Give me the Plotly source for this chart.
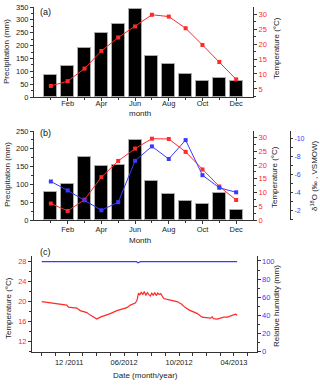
import plotly.graph_objects as go

W, H = 320, 387

# ---- data (a)
months = list(range(1, 13))
month_labels = ["Jan", "Feb", "Mar", "Apr", "May", "Jun", "Jul", "Aug", "Sep", "Oct", "Nov", "Dec"]
precip_a = [84, 120, 192, 250, 282, 343, 159, 130, 88, 61, 73, 61]
temp_a = [6.0, 7.6, 11.8, 17.7, 22.2, 25.9, 29.8, 29.2, 25.3, 19.7, 14.0, 8.2]

# ---- data (b)
precip_b = [78, 100, 178, 153, 154, 226, 109, 72, 53, 44, 75, 27]
temp_b = [6.0, 3.3, 7.4, 15.6, 21.5, 26.0, 29.6, 29.5, 24.8, 18.4, 12.2, 7.3]
d18o_b = [-5.2, -4.2, -3.1, -2.0, -2.9, -7.5, -9.1, -7.7, -9.8, -5.9, -4.5, -4.0]
d18o_ticks = [-10, -8, -6, -4, -2]
d18o_labels = ["-10", "-8", "-6", "-4", "-2"]

# ---- data (c)  (x in tick steps of the date axis)
t_c = [0.00, 0.61, 1.19, 1.82, 1.94, 2.55, 2.80, 3.28, 3.53, 3.74, 4.01, 4.26, 4.50, 4.99,
       5.47, 5.86, 6.20, 6.45, 6.69, 6.81, 6.93, 7.05, 7.14, 7.25, 7.36, 7.47, 7.58, 7.69,
       7.80, 7.91, 8.01, 8.12, 8.23, 8.34, 8.45, 8.56, 8.67, 8.78, 8.88, 9.37, 9.85, 10.17,
       10.46, 10.75, 11.07, 11.34, 11.68, 11.99, 12.29, 12.41, 12.50, 12.77, 13.01, 13.26,
       13.53, 13.74, 13.96, 14.11, 14.23]
temp_c = [20.0, 19.8, 19.6, 19.3, 18.9, 18.7, 18.2, 17.8, 17.3, 17.0, 16.5, 16.9, 17.1, 17.6,
          18.2, 18.5, 18.8, 19.3, 19.5, 19.7, 20.2, 21.7, 21.3, 21.9, 21.4, 22.0, 21.2, 21.8,
          21.4, 21.1, 21.7, 21.3, 21.8, 21.2, 21.7, 21.4, 21.6, 21.0, 20.6, 20.3, 20.0, 19.5,
          18.8, 18.3, 18.0, 17.6, 16.9, 16.8, 16.7, 16.95, 16.6, 16.5, 16.7, 16.9,
          16.9, 17.1, 17.3, 17.5, 17.3]
t_rh = [0.0, 6.9, 7.0, 7.1, 7.2, 14.23]
rh_c = [99.3, 99.3, 98.1, 98.6, 99.3, 99.3]
date_ticks = [2, 6, 10, 14]
date_labels = ["12 /2011", "06/2012", "10/2012", "04/2013"]
date_minor = list(range(0, 16))

RED = "#ff2a2a"
BLUE = "#3a3aff"
AX = "#333333"
FONT = "Liberation Sans"


def xd(p):
    return p / W


def yd(top, bottom):
    return [1 - bottom / H, 1 - top / H]


fig = go.Figure()

# (a)
fig.add_trace(go.Bar(x=months, y=precip_a, width=0.77, marker=dict(color="black", line=dict(color="#aaaaaa", width=1)),
                     xaxis="x", yaxis="y"))
fig.add_trace(go.Scatter(x=months, y=temp_a, mode="lines+markers", line=dict(color=RED, width=1),
                         marker=dict(symbol="square", size=4, color=RED), xaxis="x", yaxis="y2"))
# (b)
fig.add_trace(go.Bar(x=months, y=precip_b, width=0.77, marker=dict(color="black", line=dict(color="#aaaaaa", width=1)),
                     xaxis="x2", yaxis="y3"))
fig.add_trace(go.Scatter(x=months, y=temp_b, mode="lines+markers", line=dict(color=RED, width=1),
                         marker=dict(symbol="square", size=4, color=RED), xaxis="x2", yaxis="y4"))
fig.add_trace(go.Scatter(x=months, y=d18o_b, mode="lines+markers", line=dict(color=BLUE, width=1),
                         marker=dict(symbol="square", size=4, color=BLUE), xaxis="x2", yaxis="y5"))
# (c)
fig.add_trace(go.Scatter(x=t_c, y=temp_c, mode="lines", line=dict(color=RED, width=1.2), xaxis="x3", yaxis="y6"))
fig.add_trace(go.Scatter(x=t_rh, y=rh_c, mode="lines", line=dict(color=BLUE, width=1.2), xaxis="x3", yaxis="y7"))

tickf = dict(family=FONT, size=7.5, color="#222222")
base = dict(showgrid=False, zeroline=False, showline=True, linecolor=AX, linewidth=1, ticks="outside",
            ticklen=3, tickcolor=AX, automargin=False, tickfont=tickf)
minor = dict(ticks="outside", ticklen=2, tickcolor=AX)


def ax(**kw):
    d = dict(base)
    d.update(kw)
    return d


month_x = dict(range=[0, 13], tickvals=[2, 4, 6, 8, 10, 12], ticktext=month_labels[1::2],
               minor=dict(minor, tickvals=[1, 3, 5, 7, 9, 11]))

fig.update_layout(
    width=W, height=H, margin=dict(l=0, r=0, t=0, b=0), showlegend=False,
    plot_bgcolor="white", paper_bgcolor="white", bargap=0,
    xaxis=ax(domain=[xd(34), xd(253)], anchor="y", ticklabelstandoff=-4, **month_x),
    yaxis=ax(domain=yd(7, 97), anchor="x", range=[0, 350], dtick=50, minor=dict(minor, dtick=25)),
    yaxis2=ax(overlaying="y", side="right", anchor="x", range=[2.3, 32.4], dtick=5,
              tickfont=dict(tickf, color=RED), minor=dict(minor, dtick=2.5)),
    xaxis2=ax(domain=[xd(34), xd(253)], anchor="y3", ticklabelstandoff=-1, **month_x),
    yaxis3=ax(domain=yd(131, 220), anchor="x2", range=[0, 250], dtick=50, minor=dict(minor, dtick=25)),
    yaxis4=ax(overlaying="y3", side="right", anchor="x2", range=[0, 32.4], dtick=5,
              tickfont=dict(tickf, color=RED), minor=dict(minor, dtick=2.5)),
    yaxis5=ax(overlaying="y3", side="right", anchor="free", position=xd(290), range=[-0.92, -10.81],
              tickvals=d18o_ticks, ticktext=d18o_labels, ticklen=2, tickfont=dict(tickf, size=7, color=BLUE),
              minor=dict(minor, dtick=1)),
    xaxis3=ax(domain=[xd(32), xd(256.5)], anchor="y6", range=[-0.71, 15.64],
              tickvals=date_ticks, ticktext=date_labels, minor=dict(minor, tickvals=date_minor, ticklen=3)),
    yaxis6=ax(domain=yd(256, 351.7), anchor="x3", range=[10, 29.1], dtick=4,
              tickfont=dict(tickf, color=RED), minor=dict(minor, dtick=2)),
    yaxis7=ax(overlaying="y6", side="right", anchor="x3", range=[0, 105.5], dtick=20,
              tickfont=dict(tickf, color=BLUE), minor=dict(minor, dtick=10)),
)

titles = [
    ("Precipitation (mm)", 7, 52, -90),
    ("Temperature (°C)", 276, 48, -90),
    ("month", 140, 113, 0),
    ("Precipitation (mm)", 7, 175, -90),
    ("Temperature (°C)", 275, 177, -90),
    ("δ<sup>18</sup>O (‰ , VSMOW)", 314, 176, -90),
    ("Month", 140, 241, 0),
    ("Temperature (°C)", 8, 308, -90),
    ("Relative humidity (mm)", 276, 306, -90),
    ("Date (month/year)", 145, 375, 0),
]
for text, x, y, ang in titles:
    fig.add_annotation(text=text, x=xd(x), y=1 - y / H, xref="paper", yref="paper", showarrow=False,
                       textangle=ang, xanchor="center", yanchor="middle",
                       font=dict(family=FONT, size=8, color="#222222"))

for text, x, y in [("(a)", 38, 12), ("(b)", 38, 133), ("(c)", 38, 252)]:
    fig.add_annotation(text=text, x=xd(x), y=1 - y / H, xref="paper", yref="paper", showarrow=False,
                       xanchor="left", yanchor="middle", font=dict(family=FONT, size=9, color="#111111"))

fig.write_html("out.html", config={"displayModeBar": False},
               post_script="document.body.style.margin='0';")
